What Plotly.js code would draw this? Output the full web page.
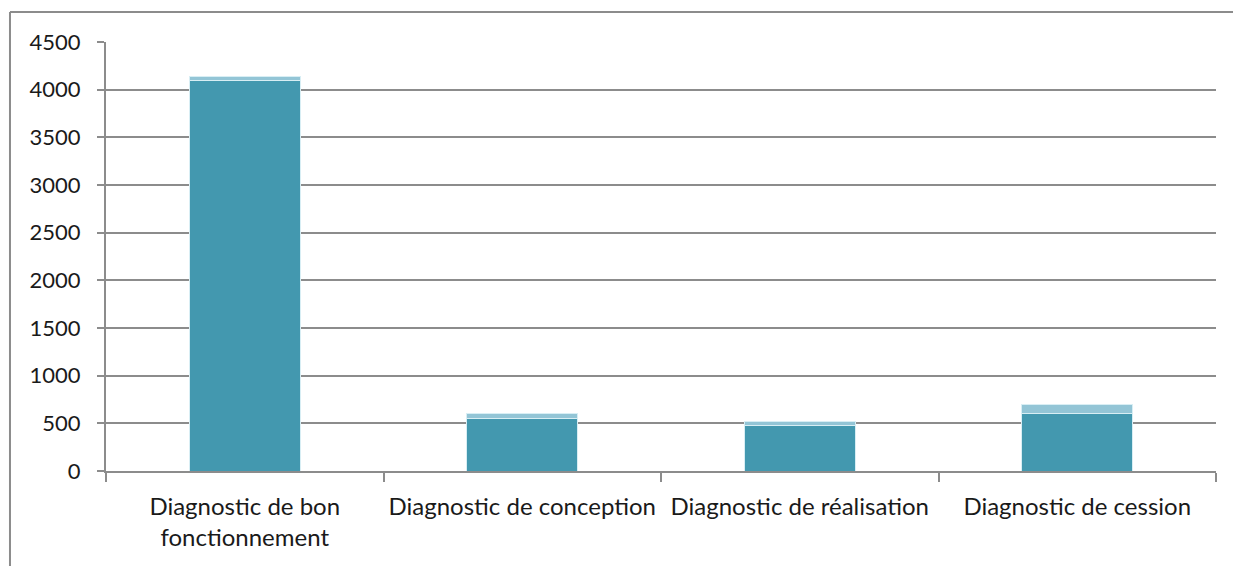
<!DOCTYPE html>
<html>
<head>
<meta charset="utf-8">
<script src="https://cdn.plot.ly/plotly-3.0.1.min.js"></script>
<style>
html,body{margin:0;padding:0;background:#fff;}
#chart{width:1233px;height:566px;}
</style>
</head>
<body>
<div id="chart"></div>
<script>
const categories = ["Diagnostic de bon<br>fonctionnement", "Diagnostic de conception", "Diagnostic de réalisation", "Diagnostic de cession"];
const seriesMain = [4100, 550, 480, 600];
const seriesExtra = [40, 50, 40, 100];
const yTicks = [0, 500, 1000, 1500, 2000, 2500, 3000, 3500, 4000, 4500];

const gridColor = "#8c8c8c";
const fontFam = "Lato, 'Open Sans', sans-serif";

const traces = [
  {type: "bar", x: categories, y: seriesMain, marker: {color: "#4398AF", line: {color: "#d8eef4", width: 1}}, showlegend: false, hoverinfo: "x+y"},
  {type: "bar", x: categories, y: seriesExtra, marker: {color: "#93C5D6", line: {color: "#d8eef4", width: 1}}, showlegend: false, hoverinfo: "x+y"}
];

const layout = {
  width: 1233, height: 566,
  margin: {l: 106, r: 17, t: 42, b: 95},
  barmode: "stack",
  bargap: 0.6,
  paper_bgcolor: "#fff",
  plot_bgcolor: "#fff",
  font: {family: fontFam, size: 22, color: "#1a1a1a"},
  xaxis: {
    type: "category",
    tickson: "boundaries",
    ticks: "outside", ticklen: 9, tickwidth: 2, tickcolor: gridColor,
    showline: true, linecolor: gridColor, linewidth: 2,
    showgrid: false,
    ticklabelstandoff: 13,
    tickfont: {family: fontFam, size: 24, color: "#1a1a1a"},
    automargin: false
  },
  yaxis: {
    range: [0, 4500],
    tickvals: yTicks,
    ticktext: yTicks.map(String),
    ticks: "outside", ticklen: 7, tickwidth: 2, tickcolor: gridColor,
    showline: true, linecolor: gridColor, linewidth: 2,
    showgrid: true, gridcolor: gridColor, gridwidth: 2,
    zeroline: false,
    ticklabelstandoff: 12,
    tickfont: {family: fontFam, size: 22, color: "#1a1a1a"},
    automargin: false
  },
  shapes: [
    {type: "line", xref: "paper", yref: "paper", x0: -0.0865, x1: 1.2, y0: 1.0699, y1: 1.0699,
     line: {color: gridColor, width: 2}, layer: "below"},
    {type: "line", xref: "paper", yref: "paper", x0: -0.0865, x1: -0.0865, y0: -0.3, y1: 1.0699,
     line: {color: gridColor, width: 2}, layer: "below"}
  ]
};

Plotly.newPlot("chart", traces, layout, {displayModeBar: false, staticPlot: true});
</script>
</body>
</html>
